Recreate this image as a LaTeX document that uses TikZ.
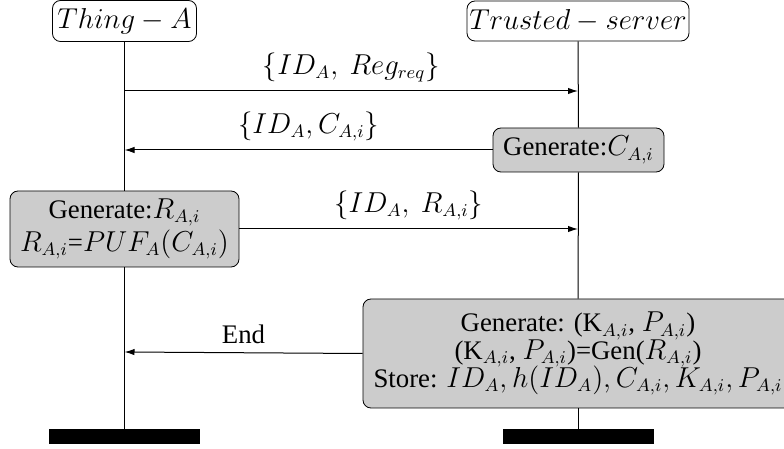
\documentclass[tikz,border=0pt]{standalone}
\usepackage[no-math]{fontspec}
\setmainfont{Liberation Serif}
\usetikzlibrary{arrows.meta}
\setlength{\lineskiplimit}{-100pt}
\tikzset{
  actor/.style={draw, rounded corners=4pt, fill=white, inner sep=0pt, align=center},
  proc/.style={draw, rounded corners=4pt, fill=gray!40, inner sep=0pt, align=center},
  bar/.style={fill=black, inner sep=0pt, minimum width=75.5pt, minimum height=7.5pt},
  life/.style={line width=0.5pt},
  msg/.style={line width=0.5pt, -{Latex[length=5pt,width=3.2pt]}},
  lbl/.style={midway, above, inner sep=4pt},
}
\begin{document}
\begin{tikzpicture}[x=0.5pt, y=-0.5pt, every node/.append style={font=\rmfamily\fontsize{13.4}{13.8}\selectfont}]
\useasboundingbox (0,0) rectangle (784,449);
\clip (0,0) rectangle (784,449);
% nodes
\node[actor, minimum width=72pt, minimum height=20.5pt] (thingA) at (124.5,21) {$Thing-A$};
\node[actor, minimum width=111pt, minimum height=20pt] (server) at (578,21) {$Trusted-server$};
\node[proc, minimum width=85.5pt, minimum height=22pt] (genC) at (578.5,150) {Generate:$C_{A,i}$};
\node[proc, minimum width=114.5pt, minimum height=38pt] (genR) at (124.5,229) {Generate:$R_{A,i}$\\[2.5pt]$R_{A,i}$=$PUF_A(C_{A,i})$};
\node[proc, minimum width=215pt, minimum height=54.5pt] (store) at (578,353.5) {Generate: (K$_{A,i}$, $P_{A,i}$)\\(K$_{A,i}$, $P_{A,i}$)=Gen($R_{A,i}$)\\Store: $ID_A, h(ID_A), C_{A,i}, K_{A,i}, P_{A,i}$};
\node[bar] (barA) at (124.5,436.5) {};
\node[bar] (barS) at (578,436.5) {};
% lifelines
\draw[life] (thingA.south) -- (genR.north);
\draw[life] (genR.south) -- (barA.north);
\draw[life] (server.south) -- (genC.north);
\draw[life] (genC.south) -- (store.north);
\draw[life] (store.south) -- (barS.north);
% message end points on lifelines
\coordinate (a1) at (124.5,91);
\coordinate (s1) at (578,91);
\coordinate (a2) at (124.5,150);
\coordinate (s3) at (578,229);
\coordinate (a4) at (124.5,352);
% messages
\draw[msg] (a1) -- (s1) node[lbl] {$\{ID_A,\ Reg_{req}\}$};
\draw[msg] (genC.west) -- (a2) node[lbl] {$\{ID_A,C_{A,i}\}$};
\draw[msg] (genR.east) -- (s3) node[lbl] {$\{ID_A,\ R_{A,i}\}$};
\draw[msg] (store.west) -- (a4) node[lbl] {End};
\end{tikzpicture}
\end{document}
